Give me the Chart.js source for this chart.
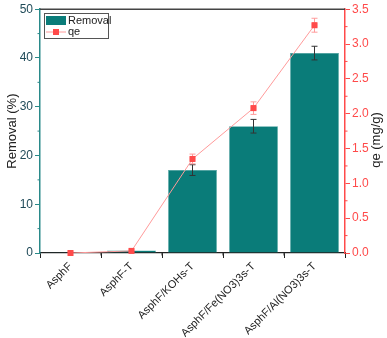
<!DOCTYPE html>
<html><head><meta charset="utf-8">
<script src="https://cdn.jsdelivr.net/npm/chart.js@4"></script>
<style>html,body{margin:0;padding:0;background:#fff}#w{width:387px;height:338px}</style>
</head><body><div id="w"><canvas id="c" width="387" height="338"></canvas></div>
<script>
const categories = ['AsphF','AsphF-T','AsphF/KOHs-T','AsphF/Fe(NO3)3s-T','AsphF/Al(NO3)3s-T'];
const removal = [0.05, 0.5, 17.0, 26.0, 41.0];
const removalErr = [0, 0, 1.1, 1.4, 1.4];
const qe = [0.0, 0.03, 1.35, 2.08, 3.27];
const qeErr = [0, 0, 0.07, 0.09, 0.1];
const leftTicks = [0,10,20,30,40,50];
const rightTicks = [0,0.5,1,1.5,2,2.5,3,3.5];

const TEAL = '#0a7c79', RED = '#ff4a4a', PINK = '#ff9a9a', AXL = '#2a8a8a', LBL = '#1f4a58';

const extras = {
  id: 'extras',
  afterDatasetsDraw(chart) {
    const ctx = chart.ctx, a = chart.chartArea;
    const x = chart.scales.x, yl = chart.scales.y, yr = chart.scales.y1;
    ctx.save();
    // error bars
    const drawErr = (xs, v, e, sc, col, cap) => {
      const yt = sc.getPixelForValue(v + e), yb = sc.getPixelForValue(v - e);
      ctx.strokeStyle = col; ctx.lineWidth = 1;
      ctx.beginPath();
      ctx.moveTo(xs, yt); ctx.lineTo(xs, yb);
      ctx.moveTo(xs - cap, yt); ctx.lineTo(xs + cap, yt);
      ctx.moveTo(xs - cap, yb); ctx.lineTo(xs + cap, yb);
      ctx.stroke();
    };
    categories.forEach((c, i) => {
      const xs = x.getPixelForValue(i);
      if (removalErr[i] > 0) drawErr(xs, removal[i], removalErr[i], yl, '#333', 3);
      if (qeErr[i] > 0) drawErr(xs, qe[i], qeErr[i], yr, PINK, 3);
    });
    // redraw markers on top
    const meta = chart.getDatasetMeta(1);
    meta.data.forEach(p => { ctx.fillStyle = RED; ctx.fillRect(p.x - 3, p.y - 3, 6, 6); });
    // top border
    ctx.strokeStyle = '#444'; ctx.lineWidth = 1.5;
    ctx.beginPath(); ctx.moveTo(a.left, a.top); ctx.lineTo(a.right, a.top); ctx.stroke();
    // minor ticks
    ctx.lineWidth = 1;
    ctx.strokeStyle = AXL;
    ctx.beginPath();
    for (let i = 0; i < leftTicks.length - 1; i++) {
      const yy = yl.getPixelForValue((leftTicks[i] + leftTicks[i+1]) / 2);
      ctx.moveTo(a.left, yy); ctx.lineTo(a.left - 2.5, yy);
    }
    ctx.stroke();
    ctx.strokeStyle = RED;
    ctx.beginPath();
    for (let i = 0; i < rightTicks.length - 1; i++) {
      const yy = yr.getPixelForValue((rightTicks[i] + rightTicks[i+1]) / 2);
      ctx.moveTo(a.right, yy); ctx.lineTo(a.right + 2.5, yy);
    }
    ctx.stroke();
    ctx.strokeStyle = '#222';
    ctx.beginPath();
    for (let i = 0; i < categories.length - 1; i++) {
      const xx = (x.getPixelForValue(i) + x.getPixelForValue(i + 1)) / 2;
      ctx.moveTo(xx, a.bottom); ctx.lineTo(xx, a.bottom + 2.5);
    }
    ctx.stroke();
    // legend
    ctx.fillStyle = '#fff'; ctx.strokeStyle = '#555'; ctx.lineWidth = 1;
    ctx.fillRect(44.5, 13.5, 64, 25); ctx.strokeRect(44.5, 13.5, 64, 25);
    ctx.fillStyle = TEAL; ctx.fillRect(46, 16, 20, 9);
    ctx.strokeStyle = PINK; ctx.beginPath(); ctx.moveTo(46, 32); ctx.lineTo(66, 32); ctx.stroke();
    ctx.fillStyle = RED; ctx.fillRect(53, 29, 6, 6);
    ctx.fillStyle = '#222'; ctx.font = '11px Arial, "Liberation Sans"'; ctx.textBaseline = 'middle'; ctx.textAlign = 'left';
    ctx.fillText('Removal', 68, 20.5);
    ctx.fillText('qe', 68, 32);
    // axis titles
    ctx.font = '13px Arial, "Liberation Sans"'; ctx.fillStyle = '#222'; ctx.textAlign = 'center';
    ctx.save(); ctx.translate(12, (a.top + a.bottom) / 2); ctx.rotate(-Math.PI / 2); ctx.fillText('Removal (%)', 0, 0); ctx.restore();
    ctx.save(); ctx.translate(376, 140); ctx.rotate(-Math.PI / 2); ctx.fillText('qe (mg/g)', 0, 0); ctx.restore();
    ctx.restore();
  }
};

new Chart(document.getElementById('c'), {
  data: {
    labels: categories,
    datasets: [
      { type: 'bar', label: 'Removal', data: removal, yAxisID: 'y', backgroundColor: TEAL,
        borderColor: '#3a9a97', borderWidth: 0.5, categoryPercentage: 1, barPercentage: 0.8, order: 2 },
      { type: 'line', label: 'qe', data: qe, yAxisID: 'y1', borderColor: PINK, borderWidth: 1,
        pointStyle: 'rect', pointRadius: 3, pointBackgroundColor: RED, pointBorderColor: RED, tension: 0, order: 1 }
    ]
  },
  options: {
    responsive: false, animation: false, devicePixelRatio: 1,
    layout: { padding: { top: 5, left: 0, right: 0, bottom: 0 } },
    plugins: { legend: { display: false }, tooltip: { enabled: false } },
    scales: {
      x: {
        offset: true,
        grid: { drawOnChartArea: false, drawTicks: true, tickLength: 5, tickColor: '#222' },
        border: { color: '#222', width: 1.2 },
        ticks: { color: '#222', font: { family: 'Arial, "Liberation Sans"', size: 11 }, maxRotation: 45, minRotation: 45, padding: 2 },
        afterFit(s) { s.height = 85; }
      },
      y: {
        position: 'left', min: 0, max: 50,
        afterBuildTicks(s) { s.ticks = leftTicks.map(v => ({ value: v })); },
        grid: { drawOnChartArea: false, tickLength: 5, tickColor: AXL },
        border: { color: AXL, width: 1.5 },
        ticks: { color: LBL, font: { family: 'Arial, "Liberation Sans"', size: 12 }, padding: 2 },
        afterFit(s) { s.width = 40; }
      },
      y1: {
        position: 'right', min: 0, max: 3.5,
        afterBuildTicks(s) { s.ticks = rightTicks.map(v => ({ value: v })); },
        grid: { drawOnChartArea: false, tickLength: 5, tickColor: RED },
        border: { color: RED, width: 1.5 },
        ticks: { color: RED, font: { family: 'Arial, "Liberation Sans"', size: 12 }, padding: 2,
          callback: v => Number(v).toFixed(1) },
        afterFit(s) { s.width = 42; }
      }
    }
  },
  plugins: [extras]
});
</script></body></html>
